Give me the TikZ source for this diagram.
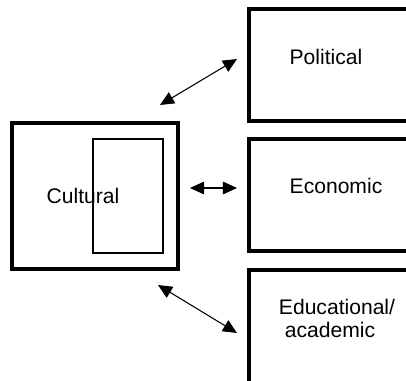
\documentclass[tikz,border=0pt]{standalone}
\usepackage{fontspec}
\setmainfont{Liberation Sans}
\usetikzlibrary{arrows.meta}
\tikzstyle{frame} = [draw, line width=2.8pt]
\tikzstyle{inner} = [draw, line width=1.4pt]
\tikzstyle{word} = [font=\fontsize{15}{16.4}\selectfont, inner sep=0pt]
\tikzstyle{arrow} = [{Triangle[length=10pt,width=9pt]}-{Triangle[length=10pt,width=9pt]}, line width=0.75pt]

\begin{document}
\begin{tikzpicture}[x=0.025cm, y=-0.025cm]
    \clip (0,0) rectangle (406,380);
    % left box
    \draw[frame] (12,123) rectangle (178,269);
    \draw[inner] (93,139) rectangle (163,253);
    \node[word] (cultural) at (83,196) {Cultural};

    % right boxes
    \draw[frame] (249,9) rectangle (420,121);
    \node[word] (political) at (326,57) {Political};

    \draw[frame] (249,139) rectangle (420,251);
    \node[word] (economic) at (336,186) {Economic};

    \draw[frame] (249,270) rectangle (420,400);
    \node[word, align=left] (educational) at (337,318) {Educational/\\\ academic};

    % arrows
    \coordinate (pol a) at (160,105);
    \coordinate (pol b) at (237,59);
    \coordinate (eco a) at (190,188);
    \coordinate (eco b) at (237,188);
    \coordinate (edu a) at (158,285);
    \coordinate (edu b) at (237,333);
    \draw[arrow] (pol a) -- (pol b);
    \draw[arrow] (eco a) -- (eco b);
    \draw[arrow] (edu a) -- (edu b);

\end{tikzpicture}
\end{document}
